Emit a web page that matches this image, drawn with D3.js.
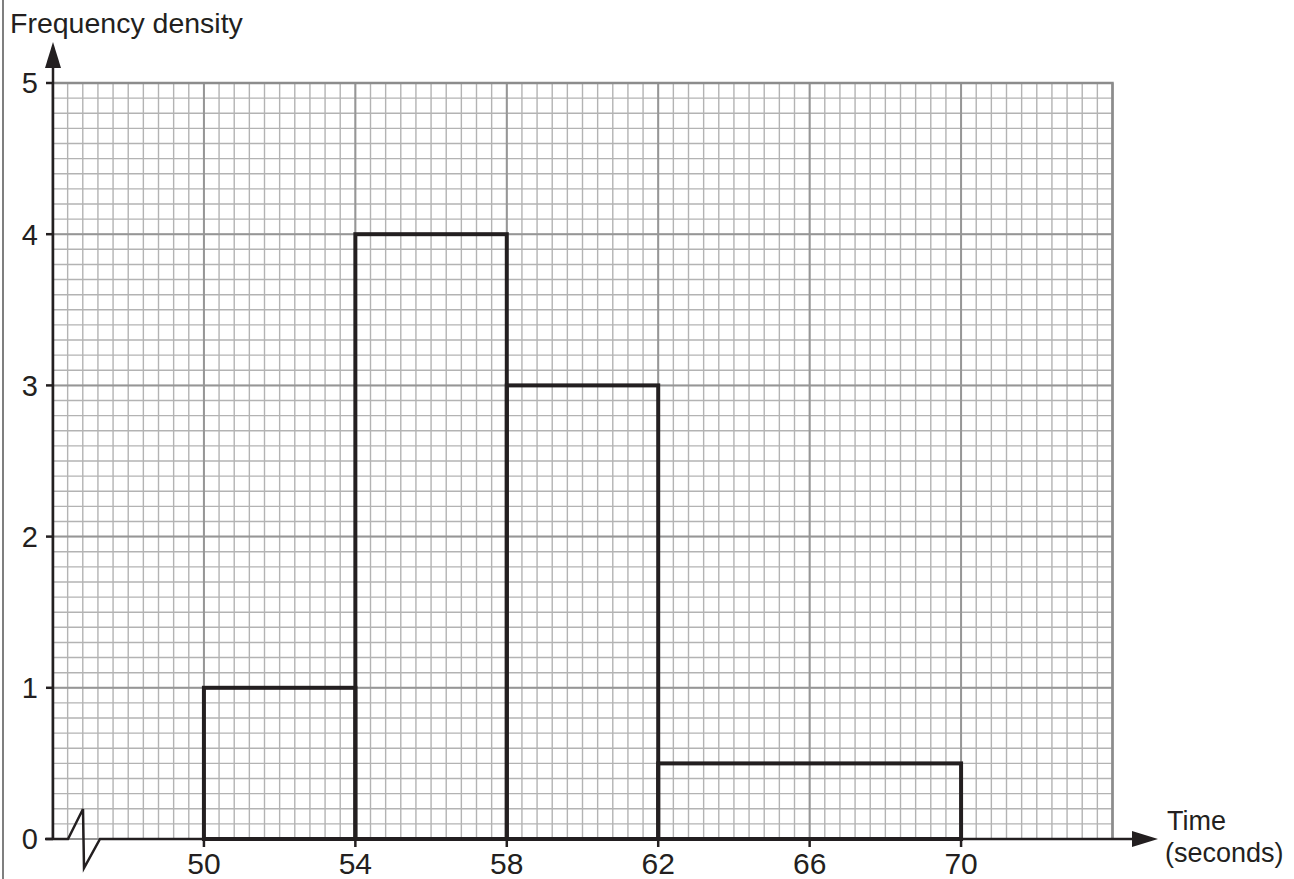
<!DOCTYPE html>
<html>
<head>
<meta charset="utf-8">
<script src="https://cdn.jsdelivr.net/npm/d3@7"></script>
<style>
html,body{margin:0;padding:0;background:#fff;}
svg{display:block;}
text{font-family:"Liberation Sans",Arial,Helvetica,sans-serif;fill:#231f20;}
</style>
</head>
<body>
<svg id="chart" width="1294" height="879"></svg>
<script>
const binStarts = [50, 54, 58, 62];
const binEnds   = [54, 58, 62, 70];
const densities = [1, 4, 3, 0.5];
const xTicks = [50, 54, 58, 62, 66, 70];
const yTicks = [0, 1, 2, 3, 4, 5];
const xDomain = [46, 74];
const yDomain = [0, 5];
const yLabel = "Frequency density";
const xLabel1 = "Time";
const xLabel2 = "(seconds)";

const svg = d3.select("#chart");
const x = d3.scaleLinear().domain(xDomain).range([52.5, 1112.5]);
const y = d3.scaleLinear().domain(yDomain).range([839, 83]);
const ink = "#231f20";

// page frame line
svg.append("line").attr("x1",3).attr("x2",3).attr("y1",0).attr("y2",879)
  .attr("stroke","#555").attr("stroke-width",1.5);

// grid
const g = svg.append("g");
const minorX = d3.range(0, 71).map(i => xDomain[0] + i*0.4);
const minorY = d3.range(0, 51).map(i => i*0.1);
g.selectAll(".mx").data(minorX).enter().append("line")
  .attr("x1", d=>x(d)).attr("x2", d=>x(d)).attr("y1", y(0)).attr("y2", y(5))
  .attr("stroke", "#b3b3b3").attr("stroke-width", 1.4);
g.selectAll(".my").data(minorY).enter().append("line")
  .attr("y1", d=>y(d)).attr("y2", d=>y(d)).attr("x1", x(xDomain[0])).attr("x2", x(xDomain[1]))
  .attr("stroke", "#b3b3b3").attr("stroke-width", 1.4);
const majorX = d3.range(46, 75, 4);
g.selectAll(".Mx").data(majorX).enter().append("line")
  .attr("x1", d=>x(d)).attr("x2", d=>x(d)).attr("y1", y(0)).attr("y2", y(5))
  .attr("stroke", "#969696").attr("stroke-width", 2);
g.selectAll(".My").data(yTicks).enter().append("line")
  .attr("y1", d=>y(d)).attr("y2", d=>y(d)).attr("x1", x(xDomain[0])).attr("x2", x(xDomain[1]))
  .attr("stroke", "#969696").attr("stroke-width", 2);
// outer border right/top
g.append("path")
  .attr("d", `M${x(xDomain[0])},${y(5)}H${x(xDomain[1])}V${y(0)}`)
  .attr("fill","none").attr("stroke","#8c8c8c").attr("stroke-width",2.5);

// bars
svg.selectAll(".bar").data(densities).enter().append("rect")
  .attr("x", (d,i)=>x(binStarts[i]))
  .attr("y", d=>y(d))
  .attr("width", (d,i)=>x(binEnds[i]) - x(binStarts[i]))
  .attr("height", d=>y(0) - y(d))
  .attr("fill","none").attr("stroke", ink).attr("stroke-width", 4);

// y axis
const axX = 53;
svg.append("line").attr("x1",axX).attr("x2",axX).attr("y1",y(0)).attr("y2",62)
  .attr("stroke",ink).attr("stroke-width",2.5);
svg.append("path").attr("d", `M${axX},42L${axX+8},68L${axX-8},68Z`).attr("fill",ink);
svg.selectAll(".yt").data(yTicks).enter().append("line")
  .attr("x1", 46).attr("x2", axX).attr("y1", d=>y(d)).attr("y2", d=>y(d))
  .attr("stroke", ink).attr("stroke-width", 2.5);
svg.selectAll(".yl").data(yTicks).enter().append("text")
  .attr("x", 38).attr("y", d=>y(d)).attr("dy","0.36em")
  .attr("text-anchor","end").attr("font-size",29).text(d=>d);

// x axis with break
const y0 = y(0);
svg.append("path")
  .attr("d", `M45,${y0}L68,${y0}L83,${y0-30}L84,${y0+29}L100,${y0}L1135,${y0}`)
  .attr("fill","none").attr("stroke",ink).attr("stroke-width",2.5).attr("stroke-linejoin","miter");
svg.append("path").attr("d", `M1158,${y0}L1132,${y0-8}L1132,${y0+8}Z`).attr("fill",ink);
svg.selectAll(".xt").data(xTicks).enter().append("line")
  .attr("x1", d=>x(d)).attr("x2", d=>x(d)).attr("y1", y0).attr("y2", y0+8)
  .attr("stroke", ink).attr("stroke-width", 2.5);
svg.selectAll(".xl").data(xTicks).enter().append("text")
  .attr("x", d=>x(d)).attr("y", 874)
  .attr("text-anchor","middle").attr("font-size",30).text(d=>d);

// labels
svg.append("text").attr("x",10).attr("y",33).attr("font-size",28.5).text(yLabel);
svg.append("text").attr("x",1167).attr("y",830).attr("font-size",27).text(xLabel1);
svg.append("text").attr("x",1165).attr("y",862).attr("font-size",27).text(xLabel2);
</script>
</body>
</html>
